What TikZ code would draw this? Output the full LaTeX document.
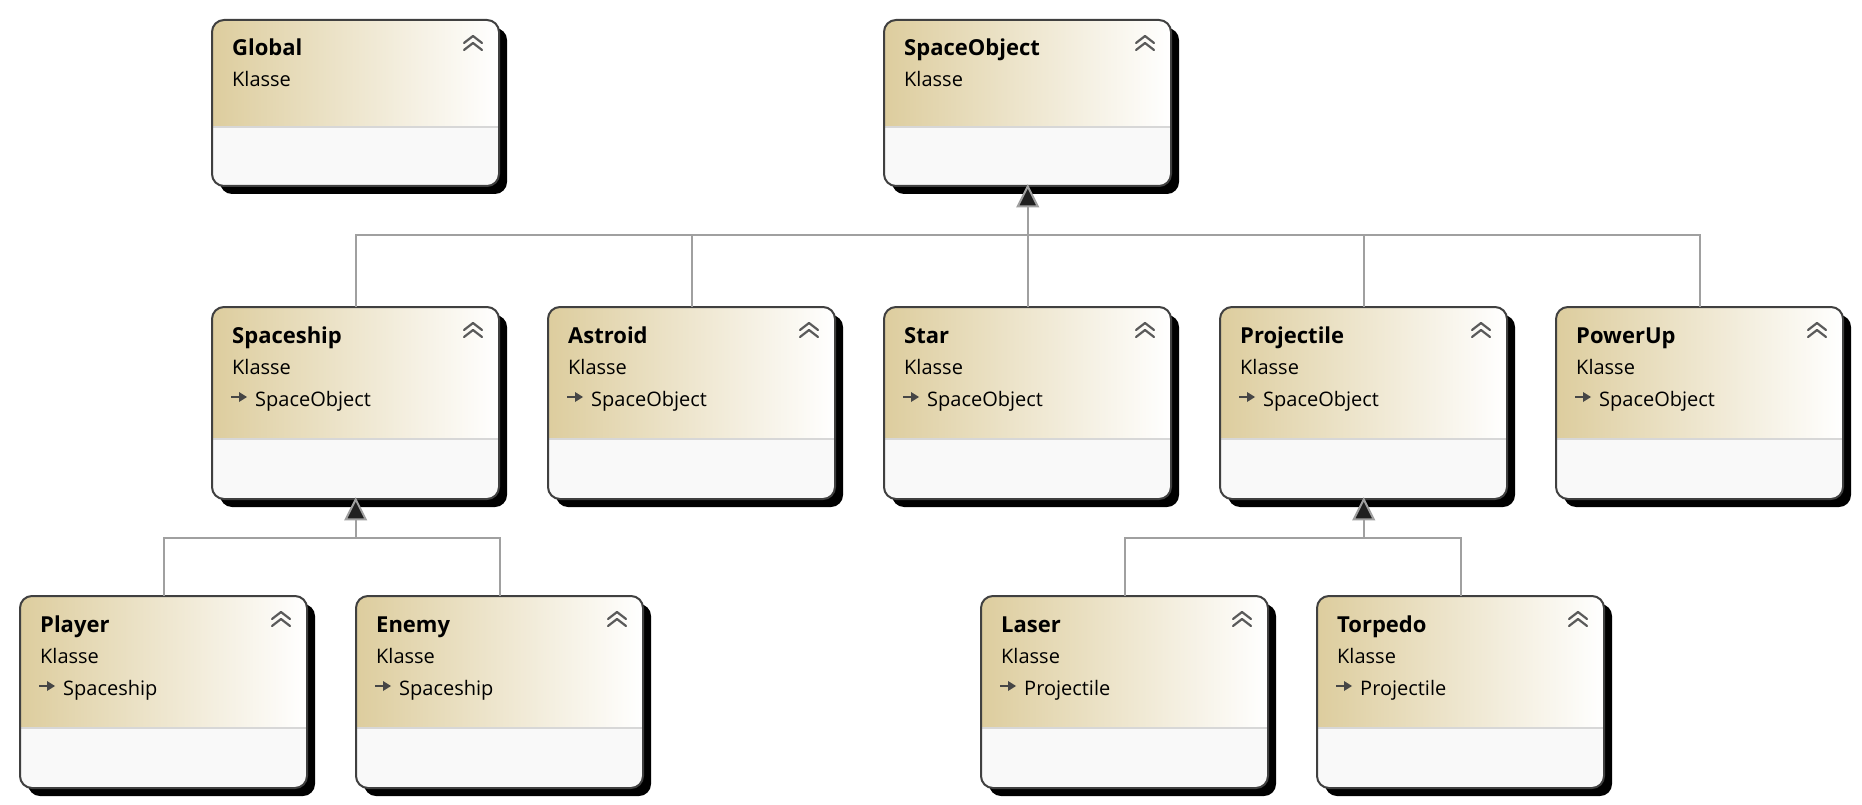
\documentclass[tikz,border=0pt]{standalone}
\usepackage{fontspec}
\setmainfont{Open Sans}
\definecolor{hdrtan}{RGB}{221,205,158}
\definecolor{compc}{RGB}{249,249,249}
\definecolor{sepc}{RGB}{215,215,215}
\definecolor{borderc}{RGB}{64,64,64}
\definecolor{connc}{RGB}{160,160,160}
\definecolor{chevc}{RGB}{90,90,90}
\definecolor{iconc}{RGB}{70,70,70}
\definecolor{arrowc}{RGB}{32,32,32}
\newcommand\titlefont{\bfseries\fontsize{22}{26}\selectfont}
\newcommand\regfont{\fontsize{20}{24}\selectfont}
\newcommand\umlbox[7]{%
  \fill[black, rounded corners=12pt] (#2+8,#3+8) rectangle ++(287,#4);
  \begin{scope}
    \clip[rounded corners=12pt] (#2,#3) rectangle ++(287,#4);
    \shade[left color=hdrtan, right color=white] (#2,#3) rectangle ++(287,#5);
    \fill[compc] (#2,#3+#5) rectangle ++(287,#4-#5);
  \end{scope}
  \draw[sepc, line width=1.5pt] (#2,#3+#5) -- ++(287,0);
  \draw[borderc, line width=2pt, rounded corners=12pt] (#2,#3) rectangle ++(287,#4);
  \node[inner sep=0pt, minimum width=287pt, minimum height=#4pt, anchor=north west] (#1) at (#2,#3) {};
  \node[anchor=base west, inner sep=0pt, font=\titlefont] at (#2+20,#3+36) {#6};
  \node[anchor=base west, inner sep=0pt, font=\regfont] at (#2+20,#3+67) {Klasse};
  \draw[chevc, line width=2.2pt, line cap=round, line join=round]
    (#2+252,#3+23) -- (#2+261,#3+16) -- (#2+270,#3+23)
    (#2+252,#3+30) -- (#2+261,#3+23) -- (#2+270,#3+30);
  \ifx\relax#7\relax\else
    \draw[iconc, line width=2pt] (#2+19,#3+90) -- (#2+29,#3+90);
    \fill[iconc] (#2+27,#3+85) -- (#2+35,#3+90) -- (#2+27,#3+95) -- cycle;
    \node[anchor=base west, inner sep=0pt, font=\regfont] at (#2+43,#3+99) {#7};
  \fi
}
\newcommand\inhtip[1]{%
  \filldraw[fill=arrowc, draw=connc, line width=2pt, line join=miter]
    (#1) -- ++(-10,20) -- ++(20,0) -- cycle;
}
\tikzset{
  conn/.style={connc, line width=2pt}
}
\begin{document}
\begin{tikzpicture}[x=1pt,y=-1pt]
\fill[white] (0,0) rectangle (1862,805);
\useasboundingbox (0,0) rectangle (1862,805);
% top row
\umlbox{Global}{212}{20}{166}{107}{Global}{}
\umlbox{SpaceObject}{884}{20}{166}{107}{SpaceObject}{}
% middle row
\umlbox{Spaceship}{212}{307}{192}{132}{Spaceship}{SpaceObject}
\umlbox{Astroid}{548}{307}{192}{132}{Astroid}{SpaceObject}
\umlbox{Star}{884}{307}{192}{132}{Star}{SpaceObject}
\umlbox{Projectile}{1220}{307}{192}{132}{Projectile}{SpaceObject}
\umlbox{PowerUp}{1556}{307}{192}{132}{PowerUp}{SpaceObject}
% bottom row
\umlbox{Player}{20}{596}{192}{132}{Player}{Spaceship}
\umlbox{Enemy}{356}{596}{192}{132}{Enemy}{Spaceship}
\umlbox{Laser}{981}{596}{192}{132}{Laser}{Projectile}
\umlbox{Torpedo}{1317}{596}{192}{132}{Torpedo}{Projectile}
% connectors
\path (SpaceObject.south) ++(0,49) coordinate (busA);
\draw[conn] (Spaceship.north) |- (busA);
\draw[conn] (Astroid.north) |- (busA);
\draw[conn] (Projectile.north) |- (busA);
\draw[conn] (PowerUp.north) |- (busA);
\draw[conn] (Star.north) -- (SpaceObject.south);
\inhtip{SpaceObject.south}
\path (Spaceship.south) ++(0,39) coordinate (busB);
\draw[conn] (Player.north) |- (busB);
\draw[conn] (Enemy.north) |- (busB);
\draw[conn] (busB) -- (Spaceship.south);
\inhtip{Spaceship.south}
\path (Projectile.south) ++(0,39) coordinate (busC);
\draw[conn] (Laser.north) |- (busC);
\draw[conn] (Torpedo.north) |- (busC);
\draw[conn] (busC) -- (Projectile.south);
\inhtip{Projectile.south}
\end{tikzpicture}
\end{document}
